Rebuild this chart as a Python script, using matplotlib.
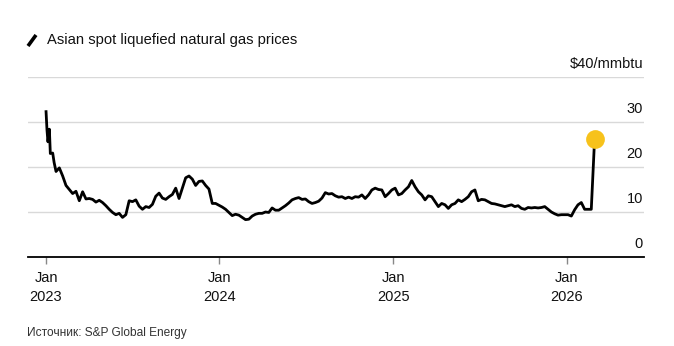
import matplotlib
matplotlib.use("Agg")
import matplotlib.pyplot as plt
import matplotlib.lines as mlines
import pandas as pd

# ---- data ----
early_dates = ['2023-01-01', '2023-01-03', '2023-01-05', '2023-01-08',
               '2023-01-10', '2023-01-15', '2023-01-18']
early_values = [32.3, 28.2, 25.6, 28.4, 23.0, 23.1, 21.0]

weekly_start = '2023-01-22'
weekly_values = [
    19.0, 19.8, 18.0, 15.9, 15.0, 14.1, 14.6, 12.5, 14.5, 12.9,
    13.0, 12.8, 12.2, 12.6, 12.1, 11.4, 10.6, 9.9, 9.4, 9.7,
    8.8, 9.4, 12.5, 12.3, 12.7, 11.3, 10.6, 11.2, 11.0, 11.7,
    13.5, 14.2, 13.1, 12.8, 13.4, 13.9, 15.3, 13.0, 15.3, 17.6,
    18.0, 17.3, 15.9, 16.8, 16.9, 15.9, 15.1, 11.9, 11.9, 11.5,
    11.1, 10.6, 9.9, 9.2, 9.5, 9.3, 8.8, 8.3, 8.4, 9.1,
    9.5, 9.7, 9.7, 10.0, 9.9, 10.9, 10.4, 10.4, 10.9, 11.4,
    12.0, 12.7, 13.0, 13.2, 12.8, 12.9, 12.3, 11.9, 12.1, 12.4,
    13.1, 14.3, 14.0, 14.1, 13.6, 13.3, 13.4, 13.0, 13.3, 13.0,
    13.4, 13.3, 13.8, 13.0, 13.8, 14.9, 15.3, 15.0, 14.9, 13.4,
    14.1, 14.9, 15.3, 13.8, 14.1, 14.9, 15.6, 17.0, 15.6, 14.5,
    13.8, 12.7, 13.6, 13.4, 12.3, 11.2, 11.9, 11.6, 10.8, 11.6,
    11.9, 12.7, 12.3, 12.8, 13.4, 14.5, 14.9, 12.5, 12.8, 12.7,
    12.3, 11.9, 11.8, 11.6, 11.4, 11.2, 11.4, 11.6, 11.2, 11.4,
    10.8, 10.6, 11.0, 10.9, 11.0, 10.9, 11.0, 11.2, 10.6, 10.0,
    9.6, 9.3, 9.4, 9.4, 9.4, 9.1, 10.5, 11.6, 12.1, 10.6,
    10.6, 10.6, 26.3,
]

y_ticks = [0, 10, 20, 30, 40]
y_tick_labels = ['0', '10', '20', '30', '$40/mmbtu']
x_tick_dates = ['2023-01-01', '2024-01-01', '2025-01-01', '2026-01-01']
x_tick_labels = ['Jan\n2023', 'Jan\n2024', 'Jan\n2025', 'Jan\n2026']
x_range = ['2022-11-24', '2026-06-13']

title = 'Asian spot liquefied natural gas prices'
source = 'Источник: S&P Global Energy'

# ---- build series ----
dates = list(pd.to_datetime(early_dates)) + list(
    pd.date_range(weekly_start, periods=len(weekly_values), freq='7D'))
values = early_values + weekly_values

plt.rcParams['font.family'] = ['Liberation Sans', 'DejaVu Sans']

fig = plt.figure(figsize=(6.74, 3.46), dpi=100, facecolor='white')
ax = fig.add_axes([28 / 674, 1 - 257 / 346, 616 / 674, 180 / 346])
ax.set_facecolor('white')

ax.set_ylim(0, 40)
ax.set_xlim(pd.Timestamp(x_range[0]), pd.Timestamp(x_range[1]))

# gridlines
for yt in y_ticks[1:]:
    ax.axhline(yt, color='#d9d9d9', lw=1.0, zorder=1)

# y labels above gridlines, right-aligned
for yt, lab in zip(y_ticks, y_tick_labels):
    ax.text(0.9985, yt + 1.25, lab, transform=ax.get_yaxis_transform(),
            ha='right', va='bottom', fontsize=10.5, color='#111111')

ax.plot(dates, values, color='black', lw=2.0, solid_joinstyle='round', zorder=3)
ax.plot(dates[-1], values[-1], 'o', color='#F7C21B', markersize=13.5,
        markeredgewidth=0, zorder=4)

for s in ['top', 'right', 'left']:
    ax.spines[s].set_visible(False)
ax.spines['bottom'].set_color('black')
ax.spines['bottom'].set_linewidth(1.3)
ax.set_yticks([])

ax.set_xticks(pd.to_datetime(x_tick_dates))
ax.set_xticklabels(x_tick_labels, fontsize=10.5, color='#111111', linespacing=1.5)
ax.tick_params(axis='x', length=5, width=1, color='#888888', pad=5)

# title with slash icon
fig.add_artist(mlines.Line2D([28 / 674, 36 / 674], [1 - 46 / 346, 1 - 35 / 346],
                             color='black', lw=2.6, solid_capstyle='butt'))
fig.text(47 / 674, 1 - 40 / 346, title, fontsize=10.6, color='#111111',
         ha='left', va='center')
fig.text(27 / 674, 1 - 333 / 346, source, fontsize=8.6, color='#333333',
         ha='left', va='center')

fig.savefig('out.png', dpi=100, facecolor='white')
